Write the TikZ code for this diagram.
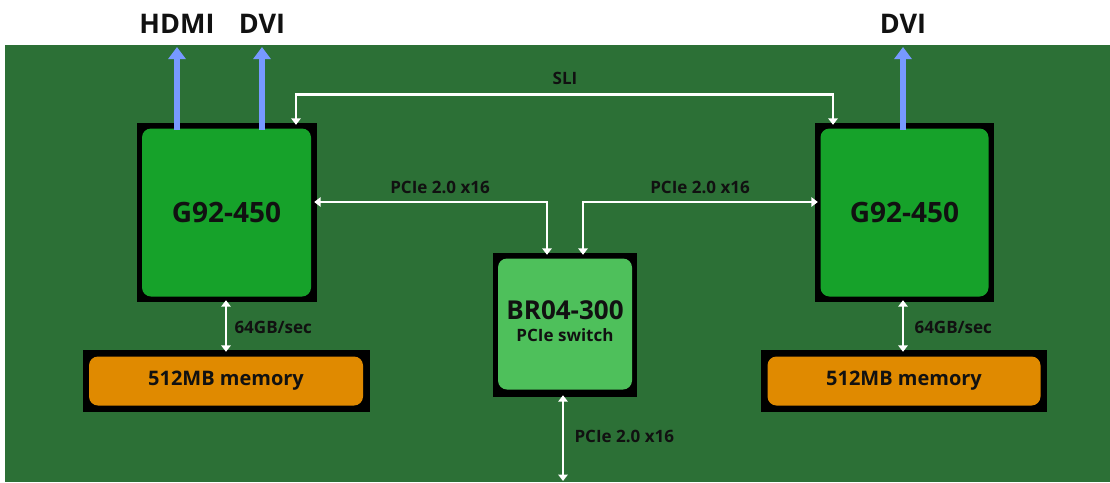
\documentclass[tikz,border=0pt]{standalone}
\usepackage{fontspec}
\setmainfont{Open Sans}
\usetikzlibrary{arrows.meta,calc}
\definecolor{board}{HTML}{2C7036}
\definecolor{gpu}{HTML}{16A22A}
\definecolor{sw}{HTML}{4EC05B}
\definecolor{mem}{HTML}{E08A00}
\definecolor{vid}{HTML}{7799FF}
\definecolor{ink}{HTML}{111111}
\tikzset{
  outerbox/.style={fill=black, inner sep=0pt},
  innerbox/.style={rounded corners=9pt, inner sep=0pt, font=\bfseries, text=ink, align=center},
  wboth/.style={draw=white, line width=2.8pt, {Triangle[length=6.5pt,width=9.5pt]}-{Triangle[length=6.5pt,width=9.5pt]}},
  vidarrow/.style={draw=vid, line width=6pt, -{Triangle[length=12pt,width=17pt]}},
  toplabel/.style={font=\bfseries\fontsize{27}{29}\selectfont, text=ink},
  smalllabel/.style={font=\bfseries\fontsize{17}{19}\selectfont, text=ink},
  chiplabel/.style={font=\bfseries\fontsize{28}{30}\selectfont},
  memlabel/.style={font=\bfseries\fontsize{20}{22}\selectfont},
}
\begin{document}
\begin{tikzpicture}[x=1pt,y=-1pt]
\useasboundingbox (0,0) rectangle (1110,482);
\fill[white] (0,0) rectangle (1110,482);
\fill[board] (5,45) rectangle (1110,482);

% GPU boxes
\node[outerbox, minimum width=180pt, minimum height=179pt] (g1) at (227,212.5) {};
\node[innerbox, fill=gpu, minimum width=169pt, minimum height=168pt, chiplabel] (g1i) at ($(g1.center)+(-0.5,0)$) {G92-450};
\node[outerbox, minimum width=179pt, minimum height=179pt] (g2) at (904.5,212.5) {};
\node[innerbox, fill=gpu, minimum width=168pt, minimum height=168pt, chiplabel] (g2i) at (g2.center) {G92-450};

% switch
\node[outerbox, minimum width=144pt, minimum height=144pt] (br) at (565,325) {};
\node[innerbox, fill=sw, minimum width=134pt, minimum height=131pt] (bri) at ($(br.center)+(0,-1)$) {};
\node[font=\bfseries\fontsize{26}{28}\selectfont, text=ink] (brt) at (565,310) {BR04-300};
\node[font=\bfseries\fontsize{17}{19}\selectfont, text=ink] (brs) at (565,335) {PCIe switch};

% memory
\node[outerbox, minimum width=287pt, minimum height=62pt] (m1) at (226,381) {};
\node[innerbox, fill=mem, minimum width=274pt, minimum height=49pt, memlabel] (m1i) at (m1.center) {512MB memory};
\node[outerbox, minimum width=286pt, minimum height=62pt] (m2) at (904,381) {};
\node[innerbox, fill=mem, minimum width=273pt, minimum height=49pt, memlabel] (m2i) at (m2.center) {512MB memory};

% top labels
\node[toplabel] (hdmi) at (177,24) {HDMI};
\node[toplabel] (dvi1) at (262,24) {DVI};
\node[toplabel] (dvi2) at (903,24) {DVI};
\coordinate (t1) at (177,47);
\coordinate (t2) at (262,47);
\coordinate (t3) at (903,47);
\draw[vidarrow] ($(g1.north)+(-50,7)$) -- (t1);
\draw[vidarrow] ($(g1.north)+(35,7)$) -- (t2);
\draw[vidarrow] ($(g2.north)+(-1.5,7)$) -- (t3);

% SLI
\draw[wboth] ($(g1.north)+(69,2)$) -- ++(0,-30) -| ($(g2.north)+(-71.5,2)$);
\node[smalllabel] (sli) at (565,78) {SLI};

% PCIe links
\draw[wboth] ($(g1.east)+(-3,-10.5)$) -| ($(br.north)+(-18,2)$);
\draw[wboth] ($(br.north)+(18,2)$) |- ($(g2.west)+(3,-10.5)$);
\node[smalllabel] (p1) at (440,187) {PCIe 2.0 x16};
\node[smalllabel] (p2) at (700,187) {PCIe 2.0 x16};

% memory links
\draw[wboth] ($(g1.south)+(-1,-2)$) -- ($(m1.north)+(0,2)$);
\draw[wboth] ($(g2.south)+(-1.5,-2)$) -- ($(m2.north)+(-1,2)$);
\node[smalllabel, anchor=west] (bw1) at (231,327) {64GB/sec};
\node[smalllabel, anchor=west] (bw2) at (911,327) {64GB/sec};

% bottom link
\coordinate (bot) at (563,481);
\draw[wboth] ($(br.south)+(-2,-2)$) -- (bot);
\node[smalllabel, anchor=west] (p3) at (571,436) {PCIe 2.0 x16};
\end{tikzpicture}
\end{document}
